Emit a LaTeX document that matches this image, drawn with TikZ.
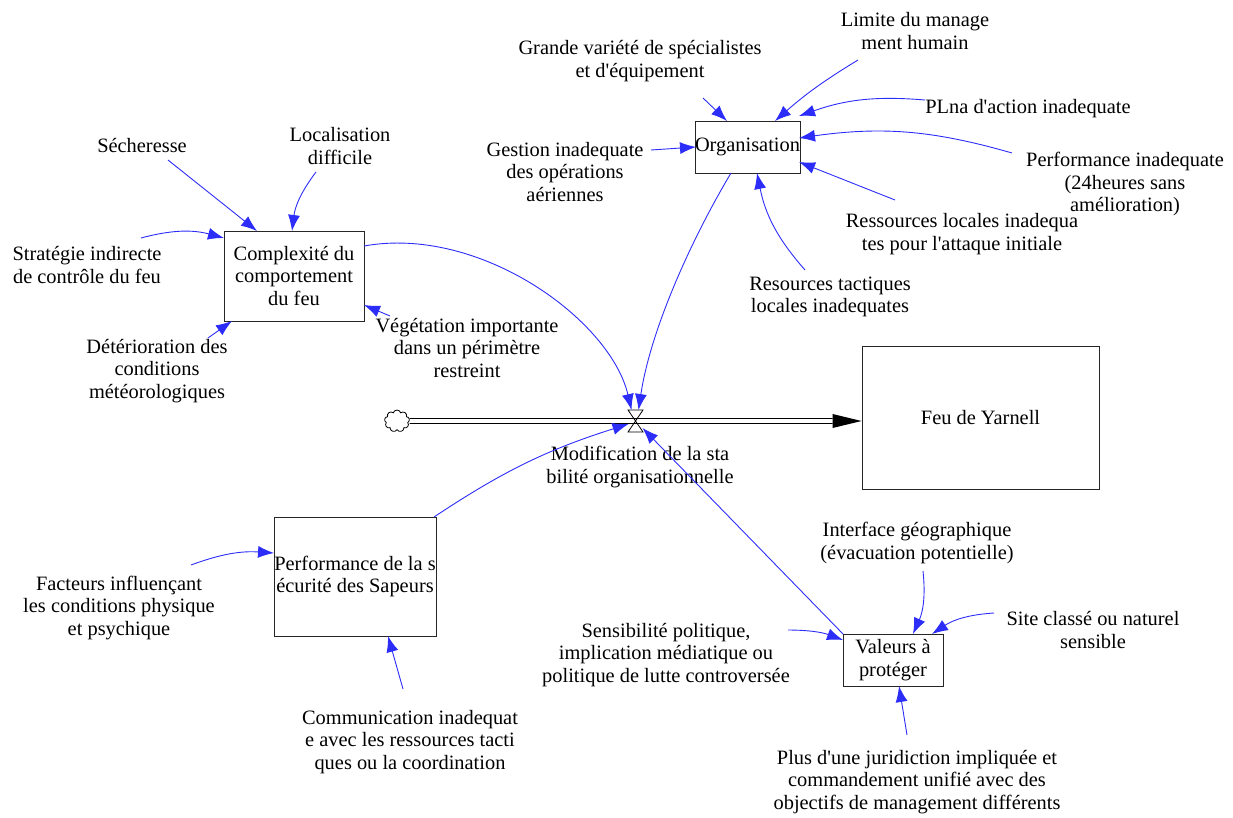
\documentclass[tikz,border=0pt]{standalone}
\usepackage{fontspec}
\setmainfont{Liberation Serif}
\usetikzlibrary{arrows.meta,calc,shapes.symbols}
\definecolor{lk}{RGB}{45,45,250}
\newcommand{\apo}{\textquotesingle}
\begin{document}
\begin{tikzpicture}[x=1pt,y=-1pt,
  lbl/.style={align=center,inner sep=0pt,font=\fontsize{20.4}{22.6}\selectfont},
  box/.style={draw=black!85,line width=0.9pt,align=center,inner sep=0pt,font=\fontsize{20.4}{22.6}\selectfont},
  lnk/.style={draw=lk,line width=0.9pt,-{Latex[length=16pt,width=12pt]}},
  pipe/.style={draw=black,line width=0.9pt}]
\useasboundingbox (0,0) rectangle (1233,818);
% stocks / auxiliary boxes
\node[box,minimum width=140pt,minimum height=90pt] (comp) at (294,276) {Complexité du\\comportement\\du feu};
\node[box,minimum width=103pt,minimum height=52pt] (org) at (747.5,147) {Organisation};
\node[box,minimum width=237pt,minimum height=143pt] (feu) at (980.5,417.5) {Feu de Yarnell};
\node[box,minimum width=162pt,minimum height=119pt] (perf) at (355,576.5) {Performance de la s\\écurité des Sapeurs};
\node[box,minimum width=100pt,minimum height=52pt] (val) at (893,660) {Valeurs à\\protéger};
% labels
\node[lbl] (sech) at (142,146) {Sécheresse};
\node[lbl] (loc) at (340,146) {Localisation\\difficile};
\node[lbl] (strat) at (87,265) {Stratégie indirecte\\de contrôle du feu};
\node[lbl] (deter) at (157,371) {Détérioration des\\conditions\\météorologiques};
\node[lbl] (veg) at (467,348) {Végétation importante\\dans un périmètre\\restreint};
\node[lbl] (grande) at (640,61) {Grande variété de spécialistes\\et d\apo équipement};
\node[lbl] (gest) at (565,172) {Gestion inadequate\\des opérations\\aériennes};
\node[lbl] (limite) at (915,31) {Limite du manage\\ment humain};
\node[lbl] (plna) at (1028,109) {PLna d\apo action inadequate};
\node[lbl] (perfin) at (1125,184) {Performance inadequate\\(24heures sans\\amélioration)};
\node[lbl] (ressloc) at (962,234) {Ressources locales inadequa\\tes pour l\apo attaque initiale};
\node[lbl] (restac) at (830,297) {Resources tactiques\\locales inadequates};
\node[lbl] (modif) at (640,467) {Modification de la sta\\bilité organisationnelle};
\node[lbl] (facteurs) at (119,608) {Facteurs influençant\\les conditions physique\\et psychique};
\node[lbl] (comm) at (410,742) {Communication inadequat\\e avec les ressources tacti\\ques ou la coordination};
\node[lbl] (interf) at (917,543) {Interface géographique\\(évacuation potentielle)};
\node[lbl] (site) at (1093,630) {Site classé ou naturel\\sensible};
\node[lbl] (sensi) at (666,655) {Sensibilité politique,\\implication médiatique ou\\politique de lutte controversée};
\node[lbl] (plus) at (917,782) {Plus d\apo une juridiction impliquée et\\commandement unifié avec des\\objectifs de management différents};
% flow
\node[cloud,cloud puffs=9,cloud ignores aspect,draw,line width=0.8pt,minimum width=25pt,minimum height=22pt,inner sep=0pt] (cloud) at (397,421) {};
\coordinate (valve) at (635.5,421);
\draw[pipe] ($(cloud.east)+(0,-2.5)$) -- ($(feu.west|-valve)+(-29,-2.5)$);
\draw[pipe] ($(cloud.east)+(0,2.5)$) -- ($(feu.west|-valve)+(-29,2.5)$);
\fill[black] ($(feu.west|-valve)+(-29,-7)$) -- (feu.west|-valve) -- ($(feu.west|-valve)+(-29,7)$) -- cycle;
\draw[line width=0.8pt] ($(valve)+(-7.5,-11)$) -- ($(valve)+(7.5,-11)$) -- ($(valve)+(-7.5,11)$) -- ($(valve)+(7.5,11)$) -- cycle;
% connectors into Complexite
\draw[lnk] ($(sech)+(26,14)$) -- ($(comp)+(-37,-45)$);
\draw[lnk] ($(loc)+(-24,26)$) to[bend right=15] ($(comp)+(-2,-45)$);
\draw[lnk] ($(strat)+(54,-27)$) to[bend left=15] ($(comp)+(-70,-38)$);
\draw[lnk] ($(deter)+(51,-33)$) -- ($(comp)+(-62,45)$);
\draw[lnk] ($(veg)+(-77,-32)$) -- ($(comp)+(70,29)$);
% connectors into the valve
\draw[lnk] ($(comp)+(70,-30)$) .. controls +(116,-21) and +(-21,-90) .. ($(valve)+(-4,-11)$);
\draw[lnk] ($(org)+(-16.5,26)$) .. controls +(-40,67) and +(12,-80) .. ($(valve)+(3,-11)$);
\draw[lnk] ($(perf)+(79,-59.5)$) to[bend left=8] ($(valve)+(-7,3)$);
\draw[lnk] ($(val)+(-50,-26)$) -- ($(valve)+(7,7)$);
% connectors into Organisation
\draw[lnk] ($(grande)+(63,37)$) -- ($(org)+(-20.5,-26)$);
\draw[lnk] ($(gest)+(86,-22)$) -- ($(org)+(-51.5,0)$);
\draw[lnk] ($(limite)+(-57,29)$) to[bend right=5] ($(org)+(27.5,-26)$);
\draw[lnk] ($(plna)+(-103,-9)$) to[bend right=12] ($(org)+(51.5,-31)$);
\draw[lnk] ($(perfin)+(-113,-31)$) to[bend right=12] ($(org)+(51.5,-9)$);
\draw[lnk] ($(ressloc)+(-67,-34)$) -- ($(org)+(51.5,15)$);
\draw[lnk] ($(restac)+(-25,-27)$) to[bend left=15] ($(org)+(9.5,26)$);
% connectors into Performance
\draw[lnk] ($(facteurs)+(72,-43)$) to[bend left=12] ($(perf)+(-81,-23.5)$);
\draw[lnk] ($(comm)+(-7,-53)$) -- ($(perf)+(33,59.5)$);
% connectors into Valeurs
\draw[lnk] ($(interf)+(6,28)$) to[bend left=15] ($(val)+(20,-26)$);
\draw[lnk] ($(site)+(-99,-17)$) to[bend right=15] ($(val)+(39,-26)$);
\draw[lnk] ($(sensi)+(122,-25)$) to[bend left=10] ($(val)+(-50,-20)$);
\draw[lnk] ($(plus)+(-10,-47)$) -- ($(val)+(6,26)$);
\end{tikzpicture}
\end{document}
